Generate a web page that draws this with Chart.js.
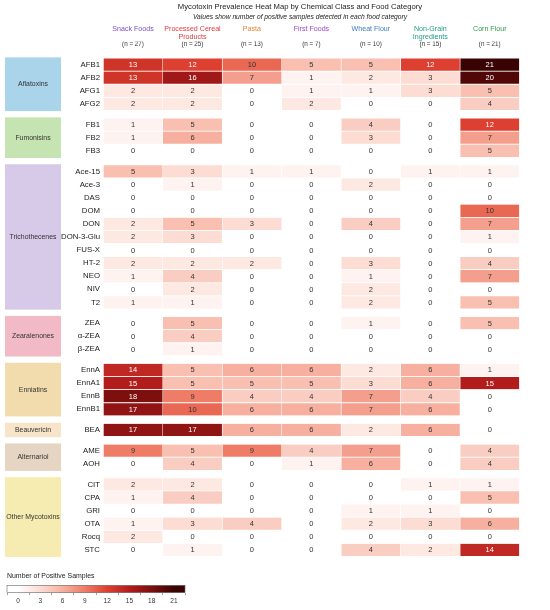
<!DOCTYPE html>
<html><head><meta charset="utf-8">
<script src="https://cdn.jsdelivr.net/npm/chart.js@4.4.1/dist/chart.umd.min.js"></script>
<style>
html,body{margin:0;padding:0;background:#fff;}
#wrap{position:relative;width:550px;height:610px;overflow:hidden;}
#main{position:absolute;left:0;top:0;width:550px;height:610px;}
#leg{position:absolute;left:0;top:568px;width:200px;height:42px;}
</style></head><body>
<div id="wrap"><div id="main"><canvas id="c1"></canvas></div><div id="leg"><canvas id="c2"></canvas></div></div>
<script>
// ---------- DATA ----------
const categories = ['Snack Foods','Processed Cereal Products','Pasta','First Foods','Wheat Flour','Non-Grain Ingredients','Corn Flour'];
const categoryHeaderLines = [['Snack Foods',''],['Processed Cereal','Products'],['Pasta',''],['First Foods',''],['Wheat Flour',''],['Non-Grain','Ingredients'],['Corn Flour','']];
const sampleSizes = [27,25,13,7,10,15,21];
const groups = ['Aflatoxins','Fumonisins','Trichothecenes','Zearalenones','Enniatins','Beauvericin','Alternariol','Other Mycotoxins'];
const groupSizes = [4,3,11,3,4,1,2,6];
const toxins = ['AFB1','AFB2','AFG1','AFG2',
  'FB1','FB2','FB3',
  'Ace-15','Ace-3','DAS','DOM','DON','DON-3-Glu','FUS-X','HT-2','NEO','NIV','T2',
  'ZEA','α-ZEA','β-ZEA',
  'EnnA','EnnA1','EnnB','EnnB1',
  'BEA',
  'AME','AOH',
  'CIT','CPA','GRI','OTA','Rocq','STC'];
const snackFoods      = [13,13,2,2, 1,1,0, 5,0,0,0,2,2,0,2,1,0,1, 0,0,0, 14,15,18,17, 17, 9,0, 2,1,0,1,2,0];
const processedCereal = [12,16,2,2, 5,6,0, 3,1,0,0,5,3,0,2,4,2,1, 5,4,1, 5,5,9,10, 17, 5,4, 2,4,0,3,0,1];
const pasta           = [10,7,0,0, 0,0,0, 1,0,0,0,3,0,0,2,0,0,0, 0,0,0, 6,5,4,6, 6, 9,0, 0,0,0,4,0,0];
const firstFoods      = [5,1,1,2, 0,0,0, 1,0,0,0,0,0,0,0,0,0,0, 0,0,0, 6,5,4,6, 6, 4,1, 0,0,0,0,0,0];
const wheatFlour      = [5,2,1,0, 4,3,0, 0,2,0,0,4,0,0,3,1,2,2, 1,0,0, 2,3,7,7, 2, 7,6, 0,0,1,2,0,4];
const nonGrain        = [12,3,3,0, 0,0,0, 1,0,0,0,0,0,0,0,0,0,0, 0,0,0, 6,6,4,6, 6, 0,0, 1,0,1,3,0,2];
const cornFlour       = [21,20,5,4, 12,7,5, 1,0,0,10,7,1,0,4,7,0,5, 5,0,0, 1,15,0,0, 0, 4,4, 1,5,0,6,0,14];
const legendTicks = [0,3,6,9,12,15,18,21];
const valueMax = 21;

// ---------- STYLE ----------
const FONT = "'Liberation Sans', Arial, Helvetica, sans-serif";
const headerColors = ['#7b4fc6','#e2393c','#f07f2e','#a046c8','#3f7dbd','#1f9c88','#2f9c44'];
const groupColors = ['#a9d4ea','#c5e4b1','#d7c9e8','#f2b9c6','#f2dcae','#f8e4c9','#e6d5c3','#f6ebb1'];
const colorStops = [[0,'#ffffff'],[3,'#fcdcd3'],[6,'#f7b0a0'],[9,'#ef7c66'],[12,'#dd4030'],[15,'#b21d1c'],[18,'#7e0f0f'],[21,'#3a0303']];
const GAP = 0.578;

function hexRgb(h){return [parseInt(h.slice(1,3),16),parseInt(h.slice(3,5),16),parseInt(h.slice(5,7),16)];}
function colorFor(v){
  for(let i=0;i<colorStops.length-1;i++){
    const [v0,c0]=colorStops[i],[v1,c1]=colorStops[i+1];
    if(v<=v1){
      const t=(v-v0)/(v1-v0), a=hexRgb(c0), b=hexRgb(c1);
      return 'rgb('+a.map((x,k)=>Math.round(x+(b[k]-x)*t)).join(',')+')';
    }
  }
  return colorStops[colorStops.length-1][1];
}

const series = [snackFoods, processedCereal, pasta, firstFoods, wheatFlour, nonGrain, cornFlour];
const rowGroup = [];
groupSizes.forEach((n,g)=>{for(let i=0;i<n;i++) rowGroup.push(g);});
const rowPos = toxins.map((_,i)=> i + rowGroup[i]*GAP);
const yMax = rowPos[rowPos.length-1] + 0.5;

Chart.defaults.font.family = FONT;

const datasets = series.map((vals,c)=>({
  label: categories[c],
  data: vals.map((v,r)=>({x:[c,c+1], y:rowPos[r], v:v})),
  backgroundColor: ctx => colorFor(ctx.raw ? ctx.raw.v : 0),
  borderColor: '#ffffff',
  borderWidth: {left:0.6,right:0.6,top:0,bottom:0},
  borderSkipped: false,
  barThickness: 12.3,
  grouped: false
}));

const cellLabels = {
  id:'cellLabels',
  afterDatasetsDraw(chart){
    const ctx = chart.ctx; ctx.save();
    ctx.font = '7.5px ' + FONT; ctx.textAlign='center'; ctx.textBaseline='middle';
    chart.data.datasets.forEach((ds,di)=>{
      chart.getDatasetMeta(di).data.forEach((el,i)=>{
        const v = ds.data[i].v, p = el.getCenterPoint();
        ctx.fillStyle = v > valueMax/2 ? '#ffffff' : '#333333';
        ctx.fillText(String(v), p.x, p.y + 0.4);
      });
    });
    ctx.restore();
  }
};

const groupBoxes = {
  id:'groupBoxes',
  beforeDraw(chart){
    const ctx = chart.ctx, y = chart.scales.y; ctx.save();
    let start = 0;
    groups.forEach((g,gi)=>{
      const first = rowPos[start], last = rowPos[start+groupSizes[gi]-1];
      const top = y.getPixelForValue(first-0.55), bot = y.getPixelForValue(last+0.55);
      ctx.fillStyle = groupColors[gi];
      ctx.fillRect(5, top, 56, bot-top);
      ctx.fillStyle = '#333333'; ctx.font = '6.9px ' + FONT;
      ctx.textAlign='center'; ctx.textBaseline='middle';
      ctx.fillText(g, 33, (top+bot)/2);
      start += groupSizes[gi];
    });
    ctx.restore();
  }
};

new Chart(document.getElementById('c1'), {
  type:'bar',
  data:{datasets},
  options:{
    indexAxis:'y', responsive:true, maintainAspectRatio:false, animation:false,
    layout:{padding:{left:50, right:0, top:0, bottom:46}},
    plugins:{
      legend:{display:false}, tooltip:{enabled:false},
      title:{display:true, text:'Mycotoxin Prevalence Heat Map by Chemical Class and Food Category',
        color:'#222', font:{size:7.7, weight:'normal', lineHeight:1.2}, padding:{top:2.68,bottom:0}},
      subtitle:{display:true, text:'Values show number of positive samples detected in each food category',
        color:'#222', font:{size:6.7, style:'italic', lineHeight:1.2}, padding:{top:1.36,bottom:0}}
    },
    scales:{
      y:{type:'linear', reverse:true, min:-0.5, max:yMax, position:'left',
        grid:{display:false, drawTicks:false}, border:{display:false},
        afterBuildTicks: s => { s.ticks = rowPos.map(v=>({value:v})); },
        afterFit: s => { s.width = 53.3; },
        ticks:{autoSkip:false, padding:3.3, color:'#222', font:{size:7.8},
          callback:(v,i)=>toxins[i]}
      },
      yR:{type:'linear', axis:'y', position:'right', min:0, max:1,
        grid:{display:false, drawTicks:false}, border:{display:false},
        ticks:{display:false},
        afterFit: s => { s.width = 30.5; }
      },
      x:{type:'linear', min:0, max:categories.length, position:'top', weight:0,
        grid:{display:false, drawTicks:false}, border:{display:false},
        afterBuildTicks: s => { s.ticks = categories.map((_,c)=>({value:c+0.5})); },
        afterFit: s => { s.height = 9; },
        ticks:{autoSkip:false, maxRotation:0, minRotation:0, padding:2, color:'#333', font:{size:6.3},
          callback:(v,i)=>'(n = '+sampleSizes[i]+')'}
      },
      x2:{type:'linear', axis:'x', min:0, max:categories.length, position:'top', weight:1,
        grid:{display:false, drawTicks:false}, border:{display:false},
        afterBuildTicks: s => { s.ticks = categories.map((_,c)=>({value:c+0.5})); },
        afterFit: s => { s.height = 20.18; },
        ticks:{autoSkip:false, maxRotation:0, minRotation:0, padding:0.35, crossAlign:'far',
          color: ctx => headerColors[ctx.index], font:{size:7.1, lineHeight:1.169},
          callback:(v,i)=>categoryHeaderLines[i]}
      }
    }
  },
  plugins:[cellLabels, groupBoxes]
});

// ---------- Colour bar legend ----------
const colorbarFill = {
  id:'colorbarFill',
  beforeDatasetsDraw(chart){
    const {ctx, chartArea:a, scales:{x}} = chart; ctx.save();
    const g = ctx.createLinearGradient(a.left,0,a.right,0);
    colorStops.forEach(([v,c])=> g.addColorStop((x.getPixelForValue(v)-a.left)/(a.right-a.left), c));
    ctx.fillStyle = g; ctx.fillRect(a.left, a.top, a.right-a.left, a.bottom-a.top);
    ctx.strokeStyle = '#666'; ctx.lineWidth = 0.6;
    ctx.strokeRect(a.left, a.top, a.right-a.left, a.bottom-a.top);
    ctx.restore();
  }
};
new Chart(document.getElementById('c2'), {
  type:'bar',
  data:{datasets:[]},
  options:{
    responsive:true, maintainAspectRatio:false, animation:false,
    layout:{padding:{left:7, right:15, top:0, bottom:0}},
    plugins:{legend:{display:false}, tooltip:{enabled:false},
      title:{display:true, align:'start', text:'Number of Positive Samples', color:'#222',
        font:{size:6.95, weight:'normal', lineHeight:1.2}, padding:{top:4.2, bottom:4.76}}},
    scales:{
      x:{type:'linear', min:legendTicks[0], max:legendTicks[legendTicks.length-1], position:'bottom',
        grid:{display:true, drawOnChartArea:false, drawTicks:true, tickLength:2.5, color:'#666', lineWidth:0.6},
        border:{display:false},
        afterBuildTicks: s => { s.ticks = legendTicks.map(v=>({value:v})); },
        afterFit: s => { s.height = 17.3; },
        ticks:{autoSkip:false, maxRotation:0, padding:2.2, color:'#333', font:{size:6.5}}
      },
      y:{display:false, min:0, max:1}
    }
  },
  plugins:[colorbarFill]
});
</script>
</body></html>
